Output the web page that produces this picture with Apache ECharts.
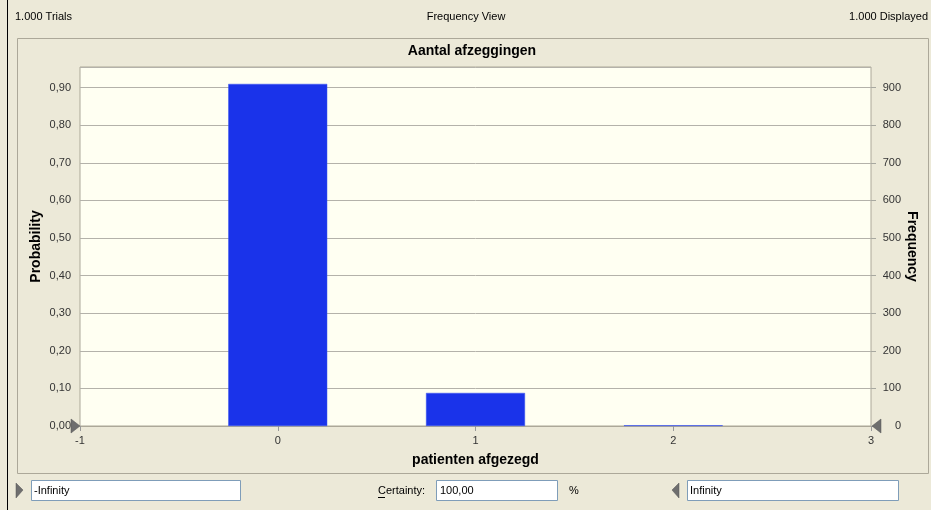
<!DOCTYPE html>
<html>
<head>
<meta charset="utf-8">
<script src="https://cdn.jsdelivr.net/npm/echarts@6/dist/echarts.min.js"></script>
<style>
html,body{margin:0;padding:0;background:#ECE9D8;}
#chart{width:931px;height:510px;}
</style>
</head>
<body>
<div id="chart"></div>
<script>
// ---- data ----
const trials = 1000;
const categories = [0, 1, 2];
const frequencies = [910, 88, 2];
const probTicks = ['0,00','0,10','0,20','0,30','0,40','0,50','0,60','0,70','0,80','0,90'];
const freqTicks = ['0','100','200','300','400','500','600','700','800','900'];
const xTicks = ['-1','0','1','2','3'];
const titleText = 'Aantal afzeggingen';
const xName = 'patienten afgezegd';
const yLeftName = 'Probability';
const yRightName = 'Frequency';
const headerLeft = '1.000 Trials';
const headerCenter = 'Frequency View';
const headerRight = '1.000 Displayed';

const probData = categories.map((c, i) => [c, frequencies[i] / trials]);

const FONT = '"Liberation Sans", Arial, sans-serif';
const chart = echarts.init(document.getElementById('chart'), null, {renderer: 'canvas'});

const txt = (text, x, y, opts) => Object.assign({
  type: 'text', z: 100,
  style: Object.assign({text, x, y, fill: '#000', font: '11px ' + FONT, textVerticalAlign: 'middle'}, opts || {})
});

chart.setOption({
  backgroundColor: '#ECE9D8',
  animation: false,
  grid: {left: 80, right: 60, top: 67, bottom: 84, outerBoundsMode: 'none', containLabel: false,
    show: true, backgroundColor: '#FFFFF2', borderColor: '#ACA899', borderWidth: 1},
  xAxis: {
    type: 'value', min: -1, max: 3, interval: 1,
    name: xName, nameLocation: 'middle', nameGap: 27,
    nameTextStyle: {fontFamily: FONT, fontWeight: 'bold', fontSize: 14, color: '#000'},
    axisLine: {show: true, lineStyle: {color: '#ACA899'}},
    axisTick: {show: true, length: 5, lineStyle: {color: '#999'}},
    axisLabel: {margin: 9, fontFamily: FONT, fontSize: 11, color: '#333',
      formatter: v => xTicks[Math.round(v) + 1]},
    splitLine: {show: false}
  },
  yAxis: [
    {
      type: 'value', min: 0, max: 0.955, interval: 0.1, position: 'left',
      name: yLeftName, nameLocation: 'middle', nameGap: 37, nameRotate: 90, nameMoveOverlap: false,
      nameTextStyle: {fontFamily: FONT, fontWeight: 'bold', fontSize: 14, color: '#000'},
      axisLine: {show: false},
      axisTick: {show: true, length: 4, lineStyle: {color: '#A8A8A0'}},
      axisLabel: {margin: 9, fontFamily: FONT, fontSize: 11, color: '#333', showMaxLabel: false,
        formatter: v => { const i = Math.round(v * 10); return v > 0.95 ? '' : probTicks[i]; }},
      splitLine: {show: true, lineStyle: {color: '#B4B2AA', width: 1}}
    },
    {
      type: 'value', min: 0, max: 955, interval: 100, position: 'right',
      name: yRightName, nameLocation: 'middle', nameGap: 34, nameRotate: -90, nameMoveOverlap: false,
      nameTextStyle: {fontFamily: FONT, fontWeight: 'bold', fontSize: 14, color: '#000'},
      axisLine: {show: false},
      axisTick: {show: true, length: 5, lineStyle: {color: '#A8A8A0'}},
      axisLabel: {margin: 30, align: 'right', fontFamily: FONT, fontSize: 11, color: '#333', showMaxLabel: false,
        formatter: v => { const i = Math.round(v / 100); return v > 950 ? '' : freqTicks[i]; }},
      splitLine: {show: false}
    }
  ],
  series: [{
    type: 'bar', yAxisIndex: 0, data: probData, barWidth: 99,
    itemStyle: {color: '#1A33EA', borderColor: '#3B55F0', borderWidth: 0.5}
  }],
  graphic: [
    // window left border
    {type: 'line', z: 90, shape: {x1: 7.5, y1: 0, x2: 7.5, y2: 510}, style: {stroke: '#000', lineWidth: 1}},
    // panel border
    {type: 'rect', z: -10, shape: {x: 17.5, y: 38.5, width: 911, height: 435}, style: {fill: 'none', stroke: '#ACA899', lineWidth: 1}},
    txt(headerLeft, 15, 17, {textAlign: 'left'}),
    txt(headerCenter, 466, 17, {textAlign: 'center'}),
    txt(headerRight, 928, 17, {textAlign: 'right'}),
    txt(titleText, 472, 51, {textAlign: 'center', font: 'bold 14px ' + FONT}),
    // certainty grabbers on axis
    {type: 'polygon', z: 110, shape: {points: [[71, 419], [80, 426], [71, 433]]}, style: {fill: '#6E6E6E', stroke: '#555', lineWidth: 0.5}},
    {type: 'polygon', z: 110, shape: {points: [[881, 419], [872, 426], [881, 433]]}, style: {fill: '#6E6E6E', stroke: '#555', lineWidth: 0.5}},
    // bottom controls
    {type: 'polygon', z: 110, shape: {points: [[16, 483], [23, 490], [16, 498]]}, style: {fill: '#6E6E6E', stroke: '#555', lineWidth: 0.5}},
    {type: 'rect', z: 100, shape: {x: 31.5, y: 480.5, width: 209, height: 20}, style: {fill: '#fff', stroke: '#7F9DB9', lineWidth: 1}},
    txt('-Infinity', 34, 491, {textAlign: 'left'}),
    txt('Certainty:', 378, 491, {textAlign: 'left'}),
    {type: 'line', z: 100, shape: {x1: 378, y1: 497.5, x2: 385, y2: 497.5}, style: {stroke: '#000', lineWidth: 1}},
    {type: 'rect', z: 100, shape: {x: 436.5, y: 480.5, width: 121, height: 20}, style: {fill: '#fff', stroke: '#7F9DB9', lineWidth: 1}},
    txt('100,00', 440, 491, {textAlign: 'left'}),
    txt('%', 569, 491, {textAlign: 'left'}),
    {type: 'polygon', z: 110, shape: {points: [[679, 483], [672, 490], [679, 498]]}, style: {fill: '#6E6E6E', stroke: '#555', lineWidth: 0.5}},
    {type: 'rect', z: 100, shape: {x: 687.5, y: 480.5, width: 211, height: 20}, style: {fill: '#fff', stroke: '#7F9DB9', lineWidth: 1}},
    txt('Infinity', 690, 491, {textAlign: 'left'})
  ]
});
</script>
</body>
</html>
